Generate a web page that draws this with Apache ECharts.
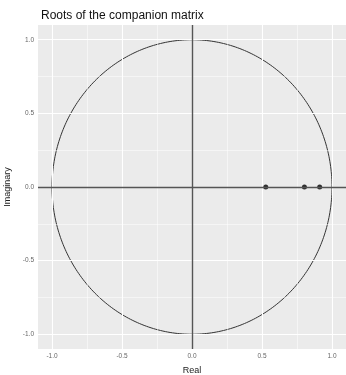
<!DOCTYPE html>
<html><head><meta charset="utf-8">
<script src="https://cdn.jsdelivr.net/npm/echarts@6/dist/echarts.min.js"></script>
<style>html,body{margin:0;padding:0;background:#fff}#c{width:346px;height:375px}</style>
</head><body><div id="c"></div>
<script>
const titleText = "Roots of the companion matrix";
const xName = "Real";
const yName = "Imaginary";
const rootsReal = [0.527, 0.803, 0.912];
const rootsImag = [0, 0, 0];
const xTicks = [-1, -0.5, 0, 0.5, 1];
const yTicks = [-1, -0.5, 0, 0.5, 1];
const xMinor = [-0.75, -0.25, 0.25, 0.75];
const yMinor = [-0.75, -0.25, 0.25, 0.75];
const unitCircle = [[0, 0, 1]]; // centre x, centre y, radius

const chart = echarts.init(document.getElementById('c'), null, {renderer: 'canvas'});
const fmt = v => Number(v).toFixed(1);
const gridLines = [];
xTicks.forEach(v => gridLines.push({xAxis: v, lineStyle: {width: 1.1}}));
yTicks.forEach(v => gridLines.push({yAxis: v, lineStyle: {width: 1.1}}));
xMinor.forEach(v => gridLines.push({xAxis: v, lineStyle: {width: 0.5}}));
yMinor.forEach(v => gridLines.push({yAxis: v, lineStyle: {width: 0.5}}));

chart.setOption({
  animation: false,
  title: {text: titleText, left: 36, top: 5, textStyle: {fontFamily: 'Liberation Sans', fontSize: 12, fontWeight: 'normal', color: '#111'}},
  grid: {left: 38, right: 0, top: 25, bottom: 26, show: true, backgroundColor: '#EBEBEB', borderWidth: 0, outerBoundsMode: 'none', containLabel: false},
  xAxis: {
    type: 'value', min: -1.1, max: 1.1,
    name: xName, nameLocation: 'middle', nameGap: 17,
    nameTextStyle: {fontFamily: 'Liberation Sans', fontSize: 9, color: '#222'},
    axisLine: {show: false},
    axisTick: {show: true, length: 2.5, customValues: xTicks, lineStyle: {color: '#666', width: 0.8}},
    axisLabel: {customValues: xTicks, formatter: fmt, fontFamily: 'Liberation Sans', fontSize: 6.5, color: '#666', margin: 4},
    splitLine: {show: false}
  },
  yAxis: {
    type: 'value', min: -1.1, max: 1.1,
    name: yName, nameLocation: 'middle', nameGap: 24, nameRotate: 90,
    nameTextStyle: {fontFamily: 'Liberation Sans', fontSize: 9, color: '#222'},
    axisLine: {show: false},
    axisTick: {show: true, length: 2.5, customValues: yTicks, lineStyle: {color: '#666', width: 0.8}},
    axisLabel: {customValues: yTicks, formatter: fmt, fontFamily: 'Liberation Sans', fontSize: 6.5, color: '#666', margin: 4},
    splitLine: {show: false}
  },
  series: [
    {
      type: 'line', data: [[0, 0]], showSymbol: false, symbol: 'none', silent: true, z: 1,
      lineStyle: {width: 0},
      markLine: {silent: true, symbol: 'none', label: {show: false}, animation: false,
        lineStyle: {color: '#ffffff', type: 'solid'}, data: gridLines}
    },
    {
      type: 'line', data: [[0, 0]], showSymbol: false, symbol: 'none', silent: true, z: 2,
      lineStyle: {width: 0},
      markLine: {silent: true, symbol: 'none', label: {show: false}, animation: false,
        lineStyle: {color: '#555555', type: 'solid', width: 1.4},
        data: [{xAxis: 0}, {yAxis: 0}]}
    },
    {
      type: 'custom', data: unitCircle, silent: true, z: 3,
      renderItem: function (params, api) {
        const cx = api.value(0), cy = api.value(1), r = api.value(2);
        const pts = [];
        for (let k = 0; k <= 360; k++) {
          const a = k * Math.PI / 180;
          pts.push(api.coord([cx + r * Math.cos(a), cy + r * Math.sin(a)]));
        }
        return {type: 'polyline', shape: {points: pts},
          style: {fill: null, stroke: '#333333', lineWidth: 1}};
      }
    },
    {
      type: 'scatter', data: rootsReal.map((x, i) => [x, rootsImag[i]]),
      symbol: 'circle', symbolSize: 5, itemStyle: {color: '#000'}, z: 4
    }
  ]
});
</script></body></html>
